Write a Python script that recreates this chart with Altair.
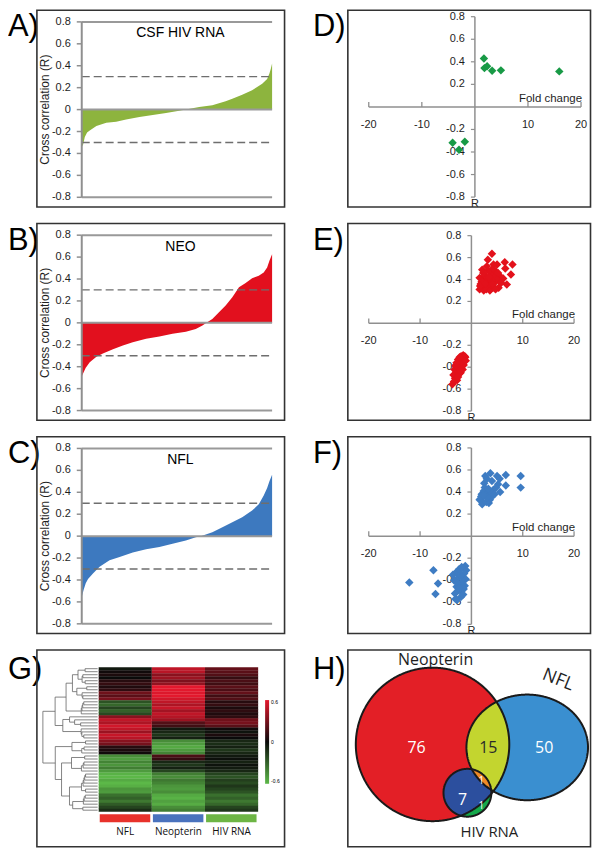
import numpy as np
import pandas as pd
import altair as alt

# ---------------- Data ----------------
# A-C: sorted cross-correlation profiles (rank fraction -> R)
hiv_rank = [0.0, 0.007, 0.016, 0.028, 0.042, 0.077, 0.129, 0.181, 0.233, 0.303, 0.373, 0.443,
            0.512, 0.547, 0.617, 0.686, 0.756, 0.791, 0.843, 0.895, 0.948, 0.974, 0.986, 0.993, 1.0]
hiv_r = [-0.34, -0.32, -0.25, -0.21, -0.19, -0.15, -0.12, -0.11, -0.09, -0.067, -0.05, -0.03,
         -0.01, 0.0, 0.024, 0.04, 0.076, 0.10, 0.136, 0.176, 0.236, 0.28, 0.33, 0.37, 0.42]
neo_rank = [0.0, 0.010, 0.021, 0.042, 0.077, 0.111, 0.164, 0.216, 0.268, 0.338, 0.408, 0.477, 0.547,
            0.599, 0.634, 0.655, 0.686, 0.721, 0.756, 0.791, 0.826, 0.861, 0.895, 0.930, 0.956,
            0.974, 0.986, 1.0]
neo_r = [-0.49, -0.45, -0.41, -0.36, -0.31, -0.28, -0.24, -0.206, -0.176, -0.145, -0.124, -0.10,
         -0.08, -0.055, -0.024, 0.0, 0.036, 0.097, 0.158, 0.233, 0.324, 0.364, 0.406, 0.43, 0.46,
         0.506, 0.567, 0.627]
nfl_rank = [0.0, 0.010, 0.021, 0.033, 0.059, 0.094, 0.146, 0.199, 0.268, 0.338, 0.408, 0.477, 0.547,
            0.599, 0.625, 0.686, 0.739, 0.791, 0.843, 0.895, 0.930, 0.956, 0.974, 0.986, 1.0]
nfl_r = [-0.555, -0.49, -0.43, -0.39, -0.34, -0.28, -0.22, -0.19, -0.15, -0.12, -0.10, -0.07, -0.04,
         -0.01, 0.0, 0.036, 0.08, 0.127, 0.172, 0.233, 0.29, 0.37, 0.44, 0.50, 0.56]
threshold = 0.3
r_ticks = [0.8, 0.6, 0.4, 0.2, 0, -0.2, -0.4, -0.6, -0.8]
r_ticks_nz = [0.8, 0.6, 0.4, 0.2, -0.2, -0.4, -0.6, -0.8]
fold_ticks = [-20, -10, 10, 20]

# D-F: fold change vs R
d_x = [1.7, 1.8, 2.3, 3.25, 4.9, 15.9, -4.2, -3.0, -1.9]
d_y = [0.43, 0.344, 0.36, 0.32, 0.324, 0.315, -0.318, -0.38, -0.31]

e_up_x = [4.0, 3.2, 2.1, 1.6, 1.6, 3.7, 5.3, 6.9, 7.7, 8.0,
          6.5, 6.6, 5.0, 4.3, 2.0, 2.5, 3.0, 3.5, 4.5, 5.5,
          2.2, 2.8, 3.4, 4.0, 4.8, 5.6, 6.2, 1.8, 2.4, 3.1,
          3.8, 4.6, 5.2, 2.6, 3.3, 4.2, 5.0, 5.8, 2.0, 2.9,
          3.6, 4.4, 1.7, 2.3, 3.0, 3.9, 4.7, 2.7, 3.5, 4.1]
e_up_y = [0.635, 0.58, 0.49, 0.415, 0.31, 0.31, 0.325, 0.355, 0.445, 0.536,
          0.557, 0.50, 0.536, 0.536, 0.33, 0.35, 0.32, 0.34, 0.37, 0.39,
          0.40, 0.42, 0.38, 0.45, 0.47, 0.43, 0.41, 0.36, 0.30, 0.40,
          0.35, 0.42, 0.46, 0.44, 0.48, 0.50, 0.40, 0.37, 0.38, 0.31,
          0.30, 0.33, 0.34, 0.46, 0.52, 0.39, 0.31, 0.36, 0.42, 0.36]
e_lo_x = [-1.6, -1.2, -2.1, -3.1, -3.7, -2.8, -2.1, -1.8, -1.4, -2.5,
          -3.3, -2.9, -1.9, -1.5, -2.3, -2.7, -3.5, -2.0, -1.3, -2.6,
          -3.0, -2.2, -1.7, -2.4, -3.2, -1.9, -2.8, -1.5, -2.6, -3.4,
          -2.0, -1.1, -2.3, -2.9]
e_lo_y = [-0.29, -0.31, -0.34, -0.39, -0.555, -0.48, -0.45, -0.39, -0.33, -0.36,
          -0.42, -0.44, -0.37, -0.35, -0.41, -0.40, -0.47, -0.30, -0.30, -0.33,
          -0.38, -0.43, -0.42, -0.46, -0.50, -0.32, -0.52, -0.38, -0.49, -0.53,
          -0.35, -0.34, -0.31, -0.36]
f_up_x = [3.7, 2.7, 5.0, 6.7, 9.6, 9.6, 6.7, 5.6, 5.2, 4.0,
          2.5, 3.0, 1.8, 2.2, 3.4, 2.0, 2.8, 3.6, 4.3, 1.6,
          2.4, 3.2, 4.0, 4.8, 2.1, 2.9, 3.8, 1.9, 2.6, 3.3,
          4.5, 3.0, 2.3, 5.5]
f_up_y = [0.57, 0.546, 0.546, 0.555, 0.546, 0.44, 0.46, 0.40, 0.47, 0.50,
          0.48, 0.52, 0.34, 0.31, 0.30, 0.38, 0.36, 0.33, 0.42, 0.33,
          0.41, 0.39, 0.36, 0.44, 0.29, 0.31, 0.40, 0.36, 0.44, 0.43,
          0.38, 0.35, 0.37, 0.52]
f_lo_x = [-12.1, -7.4, -6.5, -7.0, -2.0, -1.2, -1.6, -2.4, -3.0, -1.0,
          -1.8, -2.6, -3.4, -1.4, -2.2, -2.9, -1.1, -1.7, -2.5, -3.2,
          -2.0, -1.3, -2.8, -2.1, -1.5, -3.6, -2.3, -1.9, -2.7, -1.6,
          -2.4, -3.1]
f_lo_y = [-0.42, -0.31, -0.43, -0.525, -0.50, -0.27, -0.29, -0.30, -0.33, -0.31,
          -0.36, -0.38, -0.40, -0.34, -0.44, -0.46, -0.39, -0.41, -0.49, -0.52,
          -0.55, -0.45, -0.58, -0.36, -0.48, -0.35, -0.31, -0.28, -0.43, -0.53,
          -0.47, -0.57]

# G: heatmap (rows top -> bottom), columns NFL / Neopterin / HIV RNA
heat_cols = ["NFL", "Neopterin", "HIV RNA"]
heat_nfl = [-0.05, 0.02, 0.05, 0.0, 0.08, 0.12, 0.06, 0.10, 0.28, 0.22,
            0.30, -0.25, -0.32, -0.20, -0.30, -0.22, 0.35, 0.50, 0.45, 0.55,
            0.50, 0.40, 0.52, 0.48, 0.35, 0.30, 0.08, 0.05, 0.02, -0.45,
            -0.50, -0.42, -0.48, -0.40, -0.50, -0.58, -0.60, -0.55, -0.62, -0.57,
            -0.48, -0.50, -0.35, -0.30, -0.38, -0.28, -0.20, -0.12]
heat_neo = [0.50, 0.48, 0.35, 0.40, 0.32, 0.38, 0.60, 0.62, 0.58, 0.60,
            0.55, 0.50, 0.45, 0.52, 0.42, 0.50, 0.47, 0.40, 0.20, 0.15,
            -0.05, -0.10, -0.15, -0.08, -0.45, -0.50, -0.55, -0.50, -0.42, 0.18,
            0.12, -0.10, -0.15, -0.08, -0.20, -0.40, -0.45, -0.38, -0.42, -0.48,
            -0.50, -0.45, -0.55, -0.58, -0.52, -0.56, -0.45, -0.40]
heat_hiv = [0.25, 0.22, 0.20, 0.12, 0.18, 0.15, 0.22, 0.18, 0.25, 0.15,
            0.20, 0.08, 0.12, 0.05, 0.10, 0.06, 0.10, 0.28, 0.30, 0.22,
            0.02, -0.03, 0.05, 0.00, -0.10, -0.12, -0.08, -0.15, -0.10, -0.05,
            -0.02, -0.08, -0.03, -0.06, -0.10, -0.20, -0.25, -0.18, -0.22, -0.15,
            -0.20, -0.25, -0.35, -0.30, -0.38, -0.32, -0.20, -0.15]
heat_bar_colors = ["#e8322b", "#4a72bd", "#6db544"]
heat_legend_ticks = [-0.6, 0, 0.6]

# H: Venn counts
venn_sets = ["Neopterin", "NFL", "HIV RNA"]
venn_counts = ["76", "15", "50", "7", "1", "1"]

# ---------------- Layout ----------------
FONT = "Liberation Sans"
FONT2 = "Open Sans"
W1, W2, CH = 278, 290, 199
HSP, VSP = 16, 13
BOX1 = (29, 277.5)
BOX2 = (46, 289.5)
AXC = "#8f8f8f"
TXC = "#1e1e1e"


def fmt(v):
    return "0" if v == 0 else (f"{v:.1f}" if abs(v) < 1 else f"{v:.0f}")


def text_layer(txt, x, y, size, color="#000000", align="left", baseline="alphabetic",
               font=FONT, angle=0):
    return alt.Chart(pd.DataFrame({"t": [txt]})).mark_text(
        align=align, baseline=baseline, fontSize=size, font=font, color=color, angle=angle
    ).encode(text="t:N", x=alt.value(x), y=alt.value(y))


def box_layer(x0, x1):
    return alt.Chart(pd.DataFrame({"b": [0]})).mark_rect(
        fill="#ffffff", fillOpacity=0, stroke="#333333", strokeWidth=1.6
    ).encode(x=alt.value(x0), x2=alt.value(x1), y=alt.value(0.8), y2=alt.value(CH - 0.8))


BAR_X = [74, 265]
BAR_Y = [188.5, 12.5]


def bar_panel(letter, title, ranks, vals, color):
    xs = alt.Scale(domain=[0, 1], range=BAR_X, nice=False, zero=False)
    ys = alt.Scale(domain=[-0.8, 0.8], range=BAR_Y, nice=False, zero=False)
    Y = lambda f: alt.Y(f, scale=ys, axis=None)
    prof = pd.DataFrame({"x": ranks, "y": vals, "y0": [0.0] * len(vals)})
    area = alt.Chart(prof).mark_area(color=color, interpolate="linear", opacity=1).encode(
        x=alt.X("x:Q", scale=xs, axis=None), y=Y("y:Q"), y2="y0:Q")
    lines = alt.Chart(pd.DataFrame({"y": [0.8, 0.0, -0.8]})).mark_rule(
        color="#999999", strokeWidth=2).encode(
        y=Y("y:Q"), x=alt.value(BAR_X[0]), x2=alt.value(BAR_X[1]))
    dash = alt.Chart(pd.DataFrame({"y": [threshold, -threshold]})).mark_rule(
        color="#6e6e6e", strokeWidth=1.3, strokeDash=[8, 4]).encode(
        y=Y("y:Q"), x=alt.value(BAR_X[0]), x2=alt.value(BAR_X[1]))
    # y axis drawn from the tick values through the y scale
    ydom = alt.Chart(pd.DataFrame({"y": [-0.8], "y2": [0.8]})).mark_rule(
        color=AXC, strokeWidth=2).encode(x=alt.value(BAR_X[0]), y=Y("y:Q"), y2="y2:Q")
    tdf = pd.DataFrame({"y": r_ticks, "lab": [fmt(v) for v in r_ticks]})
    yt = alt.Chart(tdf).mark_tick(orient="horizontal", size=5, thickness=1.5, color=AXC,
                                  opacity=1).encode(x=alt.value(BAR_X[0] - 2.5), y=Y("y:Q"))
    yl = alt.Chart(tdf).mark_text(align="right", baseline="middle", fontSize=11, font=FONT,
                                  color=TXC).encode(x=alt.value(BAR_X[0] - 11), y=Y("y:Q"),
                                                    text="lab:N")
    return alt.layer(
        area, lines, dash, ydom, yt, yl,
        text_layer("Cross correlation (R)", 37, (BAR_Y[0] + BAR_Y[1]) / 2, 12, color=TXC,
                   align="center", baseline="middle", angle=270),
        text_layer(title, 173, 24, 14, align="center", baseline="middle"),
        text_layer(letter, 0, 27, 31),
        box_layer(*BOX1),
    ).properties(width=W1, height=CH)


def scatter_panel(letter, xv, yv, color, xr, yr):
    xs = alt.Scale(domain=[-20, 20], range=xr, nice=False, zero=False)
    ys = alt.Scale(domain=[-0.8, 0.8], range=yr, nice=False, zero=False)
    X = lambda f: alt.X(f, scale=xs, axis=None)
    Y = lambda f: alt.Y(f, scale=ys, axis=None)
    xdom = alt.Chart(pd.DataFrame({"x": [-20], "x2": [20], "y": [0]})).mark_rule(
        color=AXC, strokeWidth=1.5).encode(x=X("x:Q"), x2="x2:Q", y=Y("y:Q"))
    ydom = alt.Chart(pd.DataFrame({"x": [0], "y": [-0.8], "y2": [0.8]})).mark_rule(
        color=AXC, strokeWidth=1.5).encode(x=X("x:Q"), y=Y("y:Q"), y2="y2:Q")
    xtdf = pd.DataFrame({"x": fold_ticks, "y": [0] * len(fold_ticks),
                         "lab": [fmt(v) for v in fold_ticks]})
    ytdf = pd.DataFrame({"x": [0] * len(r_ticks_nz), "y": r_ticks_nz,
                         "lab": [fmt(v) for v in r_ticks_nz]})
    xt = alt.Chart(xtdf).mark_tick(orient="vertical", size=5, thickness=1.3, color=AXC,
                                   yOffset=-2.5, opacity=1).encode(x=X("x:Q"), y=Y("y:Q"))
    yt = alt.Chart(ytdf).mark_tick(orient="horizontal", size=4, thickness=1.2, color=AXC,
                                   xOffset=-2, opacity=1).encode(x=X("x:Q"), y=Y("y:Q"))
    xl = alt.Chart(xtdf).mark_text(align="center", baseline="top", dy=12, fontSize=11,
                                   font=FONT, color=TXC).encode(x=X("x:Q"), y=Y("y:Q"), text="lab:N")
    yl = alt.Chart(ytdf).mark_text(align="right", baseline="middle", dx=-10, fontSize=11,
                                   font=FONT, color=TXC).encode(x=X("x:Q"), y=Y("y:Q"), text="lab:N")
    pts = alt.Chart(pd.DataFrame({"x": xv, "y": yv})).mark_point(
        shape="diamond", filled=True, size=72, color=color, opacity=1).encode(
        x=X("x:Q"), y=Y("y:Q"))
    fold = alt.Chart(pd.DataFrame({"x": [20], "y": [0], "t": ["Fold change"]})).mark_text(
        align="right", baseline="bottom", dy=-3, dx=1, fontSize=11.5, font=FONT, color=TXC
    ).encode(x=X("x:Q"), y=Y("y:Q"), text="t:N")
    rlab = alt.Chart(pd.DataFrame({"x": [0], "y": [-0.8], "t": ["R"]})).mark_text(
        align="center", baseline="top", dy=1, fontSize=11, font=FONT, color=TXC
    ).encode(x=X("x:Q"), y=Y("y:Q"), text="t:N")
    return alt.layer(
        xdom, ydom, xt, yt, xl, yl, pts, fold, rlab,
        text_layer(letter, 11, 27, 31),
        box_layer(*BOX2),
    ).properties(width=W2, height=CH)


# ---------------- G heatmap ----------------
def heat_panel(row_index):
    n = len(heat_nfl)
    M = np.array([heat_nfl, heat_neo, heat_hiv]).T
    rows = []
    for i in range(n):
        for j in range(3):
            # slight overlap of neighbouring cells avoids anti-aliasing seams
            rows.append({"c0": j, "c1": j + 1, "r0": i, "r1": min(i + 1.1, n), "v": M[i, j]})
    hdf = pd.DataFrame(rows)
    hx = alt.Scale(domain=[0, 3], range=[91, 251], nice=False, zero=False)
    hy = alt.Scale(domain=[0, n], range=[18, 163], nice=False, zero=False)
    cs = alt.Scale(domain=[-0.6, 0, 0.6], range=["#5cb848", "#0a0a0a", "#e3182d"],
                   interpolate="rgb", clamp=True)
    # legend of a concatenated chart is placed from the top-level origin
    leg = alt.Legend(orient="none", legendX=258, legendY=57 + row_index * (CH + VSP),
                     direction="vertical", gradientLength=84, gradientThickness=4, title=None,
                     values=heat_legend_ticks, labelExpr="'' + datum.value",
                     labelFontSize=5, labelFont=FONT, labelOffset=2, gradientStrokeWidth=0)
    heat = alt.Chart(hdf).mark_rect(opacity=1).encode(
        x=alt.X("c0:Q", scale=hx, axis=None), x2="c1:Q",
        y=alt.Y("r0:Q", scale=hy, axis=None), y2="r1:Q",
        color=alt.Color("v:Q", scale=cs, legend=leg))

    # dendrogram: order-constrained average linkage of the heatmap rows
    clusters = [dict(rows=[i], y=i + 0.5, h=0.0) for i in range(n)]
    segs = []
    while len(clusters) > 1:
        best = None
        for k in range(len(clusters) - 1):
            a, b = clusters[k], clusters[k + 1]
            d = np.mean([np.linalg.norm(M[i] - M[j]) for i in a["rows"] for j in b["rows"]])
            if best is None or d < best[0]:
                best = (d, k)
        d, k = best
        a, b = clusters[k], clusters[k + 1]
        h = max(d, a["h"], b["h"]) + 0.01
        segs.append((a["h"], h, a["y"], a["y"]))
        segs.append((b["h"], h, b["y"], b["y"]))
        segs.append((h, h, a["y"], b["y"]))
        clusters[k:k + 2] = [dict(rows=a["rows"] + b["rows"], y=(a["y"] + b["y"]) / 2, h=h)]
    hmax = clusters[0]["h"]

    def hx_of(h):
        return -0.02 - 1.03 * (h / hmax) ** 0.6

    ddf = pd.DataFrame([{"x1": hx_of(s[0]), "x2": hx_of(s[1]), "y1": s[2], "y2": s[3]} for s in segs])
    dendro = alt.Chart(ddf).mark_rule(color="#666666", strokeWidth=0.8).encode(
        x=alt.X("x1:Q", scale=hx, axis=None), x2="x2:Q",
        y=alt.Y("y1:Q", scale=hy, axis=None), y2="y2:Q")

    bdf = pd.DataFrame({"a": [j + 0.02 for j in range(3)], "b": [j + 0.97 for j in range(3)],
                        "m": [j + 0.5 for j in range(3)], "col": heat_bar_colors, "t": heat_cols})
    bars = alt.Chart(bdf).mark_rect().encode(
        x=alt.X("a:Q", scale=hx, axis=None), x2="b:Q",
        y=alt.value(165.5), y2=alt.value(173.5),
        fill=alt.Fill("col:N", scale=None))
    blab = alt.Chart(bdf).mark_text(fontSize=10, font=FONT2, color="#111111", baseline="middle").encode(
        x=alt.X("m:Q", scale=hx, axis=None), y=alt.value(183), text="t:N")
    return alt.layer(
        heat, dendro, bars, blab,
        text_layer("G)", 0, 30, 31),
        box_layer(*BOX1),
    ).properties(width=W1, height=CH)


# ---------------- H Venn ----------------
VENN_NEO = (131.0, 95.5, 77.0, 77.0)
VENN_NFL = (226.0, 98.5, 61.0, 53.0)
VENN_HIV = (166.0, 144.0, 24.0, 24.0)


def ell_pts(s, n=900):
    t = np.linspace(0, 2 * np.pi, n, endpoint=False)
    return np.c_[s[0] + s[2] * np.cos(t), s[1] + s[3] * np.sin(t)]


def inside(p, s):
    return ((p[:, 0] - s[0]) / s[2]) ** 2 + ((p[:, 1] - s[1]) / s[3]) ** 2 <= 1.0 + 1e-9


def region(shapes):
    parts = []
    for i, s in enumerate(shapes):
        b = ell_pts(s)
        m = np.ones(len(b), bool)
        for j, o in enumerate(shapes):
            if j != i:
                m &= inside(b, o)
        parts.append(b[m])
    P = np.vstack(parts)
    c = P.mean(axis=0)
    P = P[np.argsort(np.arctan2(P[:, 1] - c[1], P[:, 0] - c[0]))]
    return c, P


def to_path(c, P):
    rel = P - c
    return "M" + " L".join(f"{x:.2f},{y:.2f}" for x, y in rel) + " Z"


def venn_panel():
    vx = alt.Scale(domain=[0, W2], range=[0, W2], nice=False, zero=False)
    vy = alt.Scale(domain=[0, CH], range=[0, CH], nice=False, zero=False)
    fills = [
        ([VENN_NEO], "#e31f26"),
        ([VENN_NFL], "#3a8fd0"),
        ([VENN_NEO, VENN_NFL], "#c3d52f"),
        ([VENN_HIV], "#15a84a"),
        ([VENN_HIV, VENN_NEO], "#2c4f9e"),
        ([VENN_HIV, VENN_NEO, VENN_NFL], "#f08a26"),
    ]
    frows = []
    for shapes, col in fills:
        c, P = region(shapes)
        frows.append({"cx": c[0], "cy": c[1], "path": to_path(c, P), "fill": col})
    fdf = pd.DataFrame(frows)
    fl = alt.Chart(fdf).mark_point(filled=True, size=4, opacity=1, strokeWidth=0).encode(
        x=alt.X("cx:Q", scale=vx, axis=None), y=alt.Y("cy:Q", scale=vy, axis=None),
        shape=alt.Shape("path:N", scale=None), fill=alt.Fill("fill:N", scale=None))
    orows = []
    for s in [VENN_NEO, VENN_NFL, VENN_HIV]:
        c, P = region([s])
        orows.append({"cx": c[0], "cy": c[1], "path": to_path(c, P)})
    odf = pd.DataFrame(orows)
    ol = alt.Chart(odf).mark_point(filled=False, size=4, opacity=1, stroke="#1a1a1a",
                                   strokeWidth=2).encode(
        x=alt.X("cx:Q", scale=vx, axis=None), y=alt.Y("cy:Q", scale=vy, axis=None),
        shape=alt.Shape("path:N", scale=None))
    return alt.layer(
        fl, ol,
        text_layer(venn_sets[0], 134, 11, 16, align="center", baseline="middle", font=FONT2, color=TXC),
        text_layer(venn_sets[1], 257, 31, 18, align="center", baseline="middle", font=FONT2, color=TXC, angle=22),
        text_layer(venn_sets[2], 188, 183, 15, align="center", baseline="middle", font=FONT2, color=TXC),
        text_layer(venn_counts[0], 115, 99.5, 16, color="#ffffff", align="center", baseline="middle", font=FONT2),
        text_layer(venn_counts[1], 187, 99.5, 16, color="#2a2a2a", align="center", baseline="middle", font=FONT2),
        text_layer(venn_counts[2], 243, 99.5, 16, color="#ffffff", align="center", baseline="middle", font=FONT2),
        text_layer(venn_counts[3], 161, 151, 16, color="#ffffff", align="center", baseline="middle", font=FONT2),
        text_layer(venn_counts[4], 180, 132, 10, color="#ffffff", align="center", baseline="middle", font=FONT2),
        text_layer(venn_counts[5], 180, 157.5, 10, color="#ffffff", align="center", baseline="middle", font=FONT2),
        text_layer("H)", 11, 30, 31),
        box_layer(*BOX2),
    ).properties(width=W2, height=CH)


pA = bar_panel("A)", "CSF HIV RNA", hiv_rank, hiv_r, "#8db43e")
pB = bar_panel("B)", "NEO", neo_rank, neo_r, "#e2101e")
pC = bar_panel("C)", "NFL", nfl_rank, nfl_r, "#3d79bf")
pD = scatter_panel("D)", d_x, d_y, "#189a46", [67, 280], [188.3, 7.3])
pE = scatter_panel("E)", e_up_x + e_lo_x, e_up_y + e_lo_y, "#e3111b", [67, 273], [189, 13])
pF = scatter_panel("F)", f_up_x + f_lo_x, f_up_y + f_lo_y, "#3e7cc3", [67, 273], [189, 12])
pG = heat_panel(3)
pH = venn_panel()

rows = [alt.hconcat(a, b, spacing=HSP) for a, b in
        [(pA, pD), (pB, pE), (pC, pF), (pG, pH)]]
chart = alt.vconcat(*rows, spacing=VSP).properties(
    padding={"left": 0, "top": 0, "right": 0, "bottom": 0}
).configure_view(strokeWidth=0)

chart.save("out.html", embed_options={"renderer": "svg", "actions": False})
